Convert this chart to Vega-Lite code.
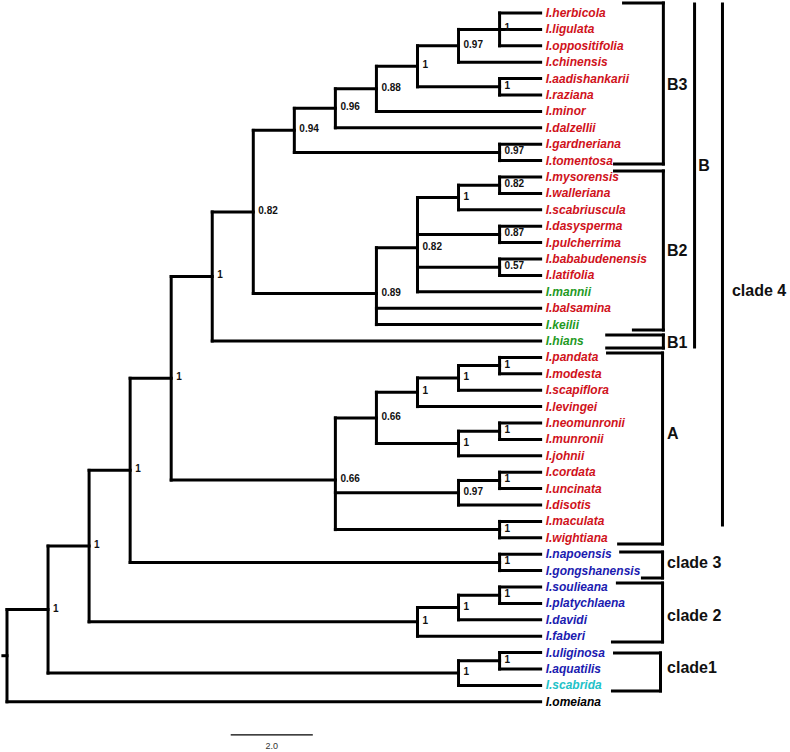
{
  "$schema": "https://vega.github.io/schema/vega-lite/v6.json",
  "width": 790,
  "height": 752,
  "autosize": {"type": "fit", "contains": "padding"},
  "padding": 0,
  "background": "white",
  "config": {"view": {"stroke": null}},
  "datasets": {
    "branches": [
      {"x1":12,"x2":12,"y1":0,"y2":2},{"x1":11,"x2":11,"y1":1,"y2":3},{"x1":12,"x2":12,"y1":4,"y2":5},{"x1":10,"x2":10,"y1":2,"y2":4.5},
      {"x1":9,"x2":9,"y1":3.25,"y2":6},{"x1":8,"x2":8,"y1":4.625,"y2":7},{"x1":12,"x2":12,"y1":8,"y2":9},{"x1":7,"x2":7,"y1":5.8125,"y2":8.5},
      {"x1":12,"x2":12,"y1":10,"y2":11},{"x1":11,"x2":11,"y1":10.5,"y2":12},{"x1":12,"x2":12,"y1":13,"y2":14},{"x1":12,"x2":12,"y1":15,"y2":16},
      {"x1":10,"x2":10,"y1":11.25,"y2":17},{"x1":9,"x2":9,"y1":14.3125,"y2":19},{"x1":6,"x2":6,"y1":7.1563,"y2":17.1042},{"x1":5,"x2":5,"y1":12.1302,"y2":20},
      {"x1":12,"x2":12,"y1":21,"y2":22},{"x1":11,"x2":11,"y1":21.5,"y2":23},{"x1":10,"x2":10,"y1":22.25,"y2":24},{"x1":12,"x2":12,"y1":25,"y2":26},
      {"x1":11,"x2":11,"y1":25.5,"y2":27},{"x1":9,"x2":9,"y1":23.125,"y2":26.25},{"x1":12,"x2":12,"y1":28,"y2":29},{"x1":11,"x2":11,"y1":28.5,"y2":30},
      {"x1":12,"x2":12,"y1":31,"y2":32},{"x1":8,"x2":8,"y1":24.6875,"y2":31.5},{"x1":4,"x2":4,"y1":16.0651,"y2":28.4792},{"x1":12,"x2":12,"y1":33,"y2":34},
      {"x1":3,"x2":3,"y1":22.2721,"y2":33.5},{"x1":12,"x2":12,"y1":35,"y2":36},{"x1":11,"x2":11,"y1":35.5,"y2":37},{"x1":10,"x2":10,"y1":36.25,"y2":38},
      {"x1":2,"x2":2,"y1":27.8861,"y2":37.125},{"x1":12,"x2":12,"y1":39,"y2":40},{"x1":11,"x2":11,"y1":39.5,"y2":41},{"x1":1,"x2":1,"y1":32.5055,"y2":40.25},
      {"x1":0,"x2":0,"y1":36.3778,"y2":42},
      {"y1":0,"y2":0,"x1":12,"x2":13},{"y1":1,"y2":1,"x1":12,"x2":13},{"y1":2,"y2":2,"x1":12,"x2":13},{"y1":3,"y2":3,"x1":11,"x2":13},
      {"y1":4,"y2":4,"x1":12,"x2":13},{"y1":5,"y2":5,"x1":12,"x2":13},{"y1":6,"y2":6,"x1":9,"x2":13},{"y1":7,"y2":7,"x1":8,"x2":13},
      {"y1":8,"y2":8,"x1":12,"x2":13},{"y1":9,"y2":9,"x1":12,"x2":13},{"y1":10,"y2":10,"x1":12,"x2":13},{"y1":11,"y2":11,"x1":12,"x2":13},
      {"y1":12,"y2":12,"x1":11,"x2":13},{"y1":13,"y2":13,"x1":12,"x2":13},{"y1":14,"y2":14,"x1":12,"x2":13},{"y1":15,"y2":15,"x1":12,"x2":13},
      {"y1":16,"y2":16,"x1":12,"x2":13},{"y1":17,"y2":17,"x1":10,"x2":13},{"y1":18,"y2":18,"x1":9,"x2":13},{"y1":19,"y2":19,"x1":9,"x2":13},
      {"y1":20,"y2":20,"x1":5,"x2":13},{"y1":21,"y2":21,"x1":12,"x2":13},{"y1":22,"y2":22,"x1":12,"x2":13},{"y1":23,"y2":23,"x1":11,"x2":13},
      {"y1":24,"y2":24,"x1":10,"x2":13},{"y1":25,"y2":25,"x1":12,"x2":13},{"y1":26,"y2":26,"x1":12,"x2":13},{"y1":27,"y2":27,"x1":11,"x2":13},
      {"y1":28,"y2":28,"x1":12,"x2":13},{"y1":29,"y2":29,"x1":12,"x2":13},{"y1":30,"y2":30,"x1":11,"x2":13},{"y1":31,"y2":31,"x1":12,"x2":13},
      {"y1":32,"y2":32,"x1":12,"x2":13},{"y1":33,"y2":33,"x1":12,"x2":13},{"y1":34,"y2":34,"x1":12,"x2":13},{"y1":35,"y2":35,"x1":12,"x2":13},
      {"y1":36,"y2":36,"x1":12,"x2":13},{"y1":37,"y2":37,"x1":11,"x2":13},{"y1":38,"y2":38,"x1":10,"x2":13},{"y1":39,"y2":39,"x1":12,"x2":13},
      {"y1":40,"y2":40,"x1":12,"x2":13},{"y1":41,"y2":41,"x1":11,"x2":13},{"y1":42,"y2":42,"x1":0,"x2":13},
      {"y1":1,"y2":1,"x1":11,"x2":12},{"y1":2,"y2":2,"x1":10,"x2":11},{"y1":4.5,"y2":4.5,"x1":10,"x2":12},{"y1":3.25,"y2":3.25,"x1":9,"x2":10},
      {"y1":4.625,"y2":4.625,"x1":8,"x2":9},{"y1":5.8125,"y2":5.8125,"x1":7,"x2":8},{"y1":8.5,"y2":8.5,"x1":7,"x2":12},{"y1":7.1563,"y2":7.1563,"x1":6,"x2":7},
      {"y1":10.5,"y2":10.5,"x1":11,"x2":12},{"y1":11.25,"y2":11.25,"x1":10,"x2":11},{"y1":13.5,"y2":13.5,"x1":10,"x2":12},{"y1":15.5,"y2":15.5,"x1":10,"x2":12},
      {"y1":14.3125,"y2":14.3125,"x1":9,"x2":10},{"y1":17.1042,"y2":17.1042,"x1":6,"x2":9},{"y1":12.1302,"y2":12.1302,"x1":5,"x2":6},{"y1":16.0651,"y2":16.0651,"x1":4,"x2":5},
      {"y1":21.5,"y2":21.5,"x1":11,"x2":12},{"y1":22.25,"y2":22.25,"x1":10,"x2":11},{"y1":23.125,"y2":23.125,"x1":9,"x2":10},{"y1":25.5,"y2":25.5,"x1":11,"x2":12},
      {"y1":26.25,"y2":26.25,"x1":9,"x2":11},{"y1":24.6875,"y2":24.6875,"x1":8,"x2":9},{"y1":28.5,"y2":28.5,"x1":11,"x2":12},{"y1":29.25,"y2":29.25,"x1":8,"x2":11},
      {"y1":31.5,"y2":31.5,"x1":8,"x2":12},{"y1":28.4792,"y2":28.4792,"x1":4,"x2":8},{"y1":22.2721,"y2":22.2721,"x1":3,"x2":4},{"y1":33.5,"y2":33.5,"x1":3,"x2":12},
      {"y1":27.8861,"y2":27.8861,"x1":2,"x2":3},{"y1":35.5,"y2":35.5,"x1":11,"x2":12},{"y1":36.25,"y2":36.25,"x1":10,"x2":11},{"y1":37.125,"y2":37.125,"x1":2,"x2":10},
      {"y1":32.5055,"y2":32.5055,"x1":1,"x2":2},{"y1":39.5,"y2":39.5,"x1":11,"x2":12},{"y1":40.25,"y2":40.25,"x1":1,"x2":11},{"y1":36.3778,"y2":36.3778,"x1":0,"x2":1},
      {"y1":39.1889,"y2":39.1889,"x1":-0.1,"x2":0}
    ],
    "leaves": [
      {"name":"I.herbicola","i":0,"grp":"s1"},{"name":"I.ligulata","i":1,"grp":"s1"},{"name":"I.oppositifolia","i":2,"grp":"s1"},
      {"name":"I.chinensis","i":3,"grp":"s1"},{"name":"I.aadishankarii","i":4,"grp":"s1"},{"name":"I.raziana","i":5,"grp":"s1"},
      {"name":"I.minor","i":6,"grp":"s1"},{"name":"I.dalzellii","i":7,"grp":"s1"},{"name":"I.gardneriana","i":8,"grp":"s1"},
      {"name":"I.tomentosa","i":9,"grp":"s1"},{"name":"I.mysorensis","i":10,"grp":"s1"},{"name":"I.walleriana","i":11,"grp":"s1"},
      {"name":"I.scabriuscula","i":12,"grp":"s1"},{"name":"I.dasysperma","i":13,"grp":"s1"},{"name":"I.pulcherrima","i":14,"grp":"s1"},
      {"name":"I.bababudenensis","i":15,"grp":"s1"},{"name":"I.latifolia","i":16,"grp":"s1"},{"name":"I.mannii","i":17,"grp":"s2"},
      {"name":"I.balsamina","i":18,"grp":"s1"},{"name":"I.keilii","i":19,"grp":"s2"},{"name":"I.hians","i":20,"grp":"s2"},
      {"name":"I.pandata","i":21,"grp":"s1"},{"name":"I.modesta","i":22,"grp":"s1"},{"name":"I.scapiflora","i":23,"grp":"s1"},
      {"name":"I.levingei","i":24,"grp":"s1"},{"name":"I.neomunronii","i":25,"grp":"s1"},{"name":"I.munronii","i":26,"grp":"s1"},
      {"name":"I.johnii","i":27,"grp":"s1"},{"name":"I.cordata","i":28,"grp":"s1"},{"name":"I.uncinata","i":29,"grp":"s1"},
      {"name":"I.disotis","i":30,"grp":"s1"},{"name":"I.maculata","i":31,"grp":"s1"},{"name":"I.wightiana","i":32,"grp":"s1"},
      {"name":"I.napoensis","i":33,"grp":"s3"},{"name":"I.gongshanensis","i":34,"grp":"s3"},{"name":"I.soulieana","i":35,"grp":"s3"},
      {"name":"I.platychlaena","i":36,"grp":"s3"},{"name":"I.davidi","i":37,"grp":"s3"},{"name":"I.faberi","i":38,"grp":"s3"},
      {"name":"I.uliginosa","i":39,"grp":"s3"},{"name":"I.aquatilis","i":40,"grp":"s3"},{"name":"I.scabrida","i":41,"grp":"s4"},
      {"name":"I.omeiana","i":42,"grp":"s5"}
    ],
    "support": [
      {"d":12,"y":1,"v":"1"},{"d":11,"y":2,"v":"0.97"},{"d":12,"y":4.5,"v":"1"},{"d":10,"y":3.25,"v":"1"},{"d":9,"y":4.625,"v":"0.88"},
      {"d":8,"y":5.8125,"v":"0.96"},{"d":12,"y":8.5,"v":"0.97"},{"d":7,"y":7.1563,"v":"0.94"},{"d":12,"y":10.5,"v":"0.82"},
      {"d":11,"y":11.25,"v":"1"},{"d":12,"y":13.5,"v":"0.87"},{"d":12,"y":15.5,"v":"0.57"},{"d":10,"y":14.3125,"v":"0.82"},
      {"d":9,"y":17.1042,"v":"0.89"},{"d":6,"y":12.1302,"v":"0.82"},{"d":5,"y":16.0651,"v":"1"},{"d":12,"y":21.5,"v":"1"},
      {"d":11,"y":22.25,"v":"1"},{"d":10,"y":23.125,"v":"1"},{"d":12,"y":25.5,"v":"1"},{"d":11,"y":26.25,"v":"1"},
      {"d":9,"y":24.6875,"v":"0.66"},{"d":12,"y":28.5,"v":"1"},{"d":11,"y":29.25,"v":"0.97"},{"d":12,"y":31.5,"v":"1"},
      {"d":8,"y":28.4792,"v":"0.66"},{"d":4,"y":22.2721,"v":"1"},{"d":12,"y":33.5,"v":"1"},{"d":3,"y":27.8861,"v":"1"},
      {"d":12,"y":35.5,"v":"1"},{"d":11,"y":36.25,"v":"1"},{"d":10,"y":37.125,"v":"1"},{"d":2,"y":32.5055,"v":"1"},
      {"d":12,"y":39.5,"v":"1"},{"d":11,"y":40.25,"v":"1"},{"d":1,"y":36.3778,"v":"1"}
    ],
    "brackets": [
      {"x1":15.02,"x2":15.99,"y1":-0.61,"y2":-0.61},{"x1":15.99,"x2":15.99,"y1":-0.61,"y2":9.21},{"x1":14.8,"x2":15.99,"y1":9.21,"y2":9.21},
      {"x1":14.8,"x2":15.99,"y1":9.63,"y2":9.63},{"x1":15.99,"x2":15.99,"y1":9.63,"y2":19.33},{"x1":15.26,"x2":15.99,"y1":19.33,"y2":19.33},
      {"x1":14.61,"x2":15.99,"y1":19.63,"y2":19.63},{"x1":15.99,"x2":15.99,"y1":19.63,"y2":20.43},{"x1":14.61,"x2":15.99,"y1":20.43,"y2":20.43},
      {"x1":14.63,"x2":15.97,"y1":20.73,"y2":20.73},{"x1":15.97,"x2":15.97,"y1":20.73,"y2":32.38},{"x1":14.9,"x2":15.97,"y1":32.38,"y2":32.38},
      {"x1":14.95,"x2":15.97,"y1":32.87,"y2":32.87},{"x1":15.97,"x2":15.97,"y1":32.87,"y2":34.45},{"x1":15.48,"x2":15.97,"y1":34.45,"y2":34.45},
      {"x1":14.87,"x2":15.97,"y1":34.76,"y2":34.76},{"x1":15.97,"x2":15.97,"y1":34.76,"y2":38.35},{"x1":14.75,"x2":15.97,"y1":38.35,"y2":38.35},
      {"x1":14.8,"x2":15.92,"y1":39.02,"y2":39.02},{"x1":15.92,"x2":15.92,"y1":39.02,"y2":41.34},{"x1":14.75,"x2":15.92,"y1":41.34,"y2":41.34},
      {"x1":16.75,"x2":16.75,"y1":-0.55,"y2":20.37},
      {"x1":17.43,"x2":17.43,"y1":-0.55,"y2":31.22}
    ],
    "cladeLabels": [
      {"d":16.08,"y":4.39,"t":"B3"},{"d":16.08,"y":14.51,"t":"B2"},{"d":16.08,"y":20.12,"t":"B1"},{"d":16.08,"y":25.67,"t":"A"},
      {"d":16.84,"y":9.33,"t":"B"},{"d":17.66,"y":16.95,"t":"clade 4"},{"d":16.08,"y":33.54,"t":"clade 3"},
      {"d":16.08,"y":36.77,"t":"clade 2"},{"d":16.08,"y":39.94,"t":"clade1"}
    ],
    "scalebar": [{"x1":5.45,"x2":7.45,"y":44.02,"mid":6.45,"ly":44.72,"label":"2.0"}]
  },
  "encoding": {},
  "layer": [
    {
      "data": {"name": "branches"},
      "mark": {"type": "rule", "stroke": "#000000", "strokeWidth": 3, "strokeCap": "square"},
      "encoding": {
        "x": {"field": "x1", "type": "quantitative", "scale": {"domain": [-0.146, 19.075], "nice": false, "zero": false}, "axis": null},
        "x2": {"field": "x2"},
        "y": {"field": "y1", "type": "quantitative", "scale": {"domain": [-0.7927, 45.06], "nice": false, "zero": false, "reverse": true}, "axis": null},
        "y2": {"field": "y2"}
      }
    },
    {
      "data": {"name": "brackets"},
      "mark": {"type": "rule", "stroke": "#000000", "strokeWidth": 3, "strokeCap": "square"},
      "encoding": {
        "x": {"field": "x1", "type": "quantitative"},
        "x2": {"field": "x2"},
        "y": {"field": "y1", "type": "quantitative"},
        "y2": {"field": "y2"}
      }
    },
    {
      "data": {"name": "leaves"},
      "mark": {"type": "text", "align": "left", "baseline": "middle", "dx": 5, "font": "Liberation Sans", "fontSize": 12, "fontWeight": "bold", "fontStyle": "italic"},
      "encoding": {
        "x": {"datum": 13, "type": "quantitative"},
        "y": {"field": "i", "type": "quantitative"},
        "text": {"field": "name"},
        "color": {"field": "grp", "type": "nominal", "scale": {"domain": ["s1", "s2", "s3", "s4", "s5"], "range": ["#d0121b", "#1f9a1f", "#1b1bb0", "#22c2c8", "#000000"]}, "legend": null}
      }
    },
    {
      "data": {"name": "support"},
      "mark": {"type": "text", "align": "left", "baseline": "middle", "dx": 5, "dy": -1, "font": "Liberation Sans", "fontSize": 10, "fontWeight": "bold", "color": "#111111"},
      "encoding": {
        "x": {"field": "d", "type": "quantitative"},
        "y": {"field": "y", "type": "quantitative"},
        "text": {"field": "v"}
      }
    },
    {
      "data": {"name": "cladeLabels"},
      "mark": {"type": "text", "align": "left", "baseline": "middle", "font": "Liberation Sans", "fontSize": 16, "fontWeight": "bold", "color": "#111111"},
      "encoding": {
        "x": {"field": "d", "type": "quantitative"},
        "y": {"field": "y", "type": "quantitative"},
        "text": {"field": "t"}
      }
    },
    {
      "data": {"name": "scalebar"},
      "mark": {"type": "rule", "stroke": "#000000", "strokeWidth": 1.2},
      "encoding": {
        "x": {"field": "x1", "type": "quantitative"},
        "x2": {"field": "x2"},
        "y": {"field": "y", "type": "quantitative"}
      }
    },
    {
      "data": {"name": "scalebar"},
      "mark": {"type": "text", "align": "center", "baseline": "middle", "font": "Liberation Sans", "fontSize": 9, "color": "#333333"},
      "encoding": {
        "x": {"field": "mid", "type": "quantitative"},
        "y": {"field": "ly", "type": "quantitative"},
        "text": {"field": "label"}
      }
    }
  ]
}
